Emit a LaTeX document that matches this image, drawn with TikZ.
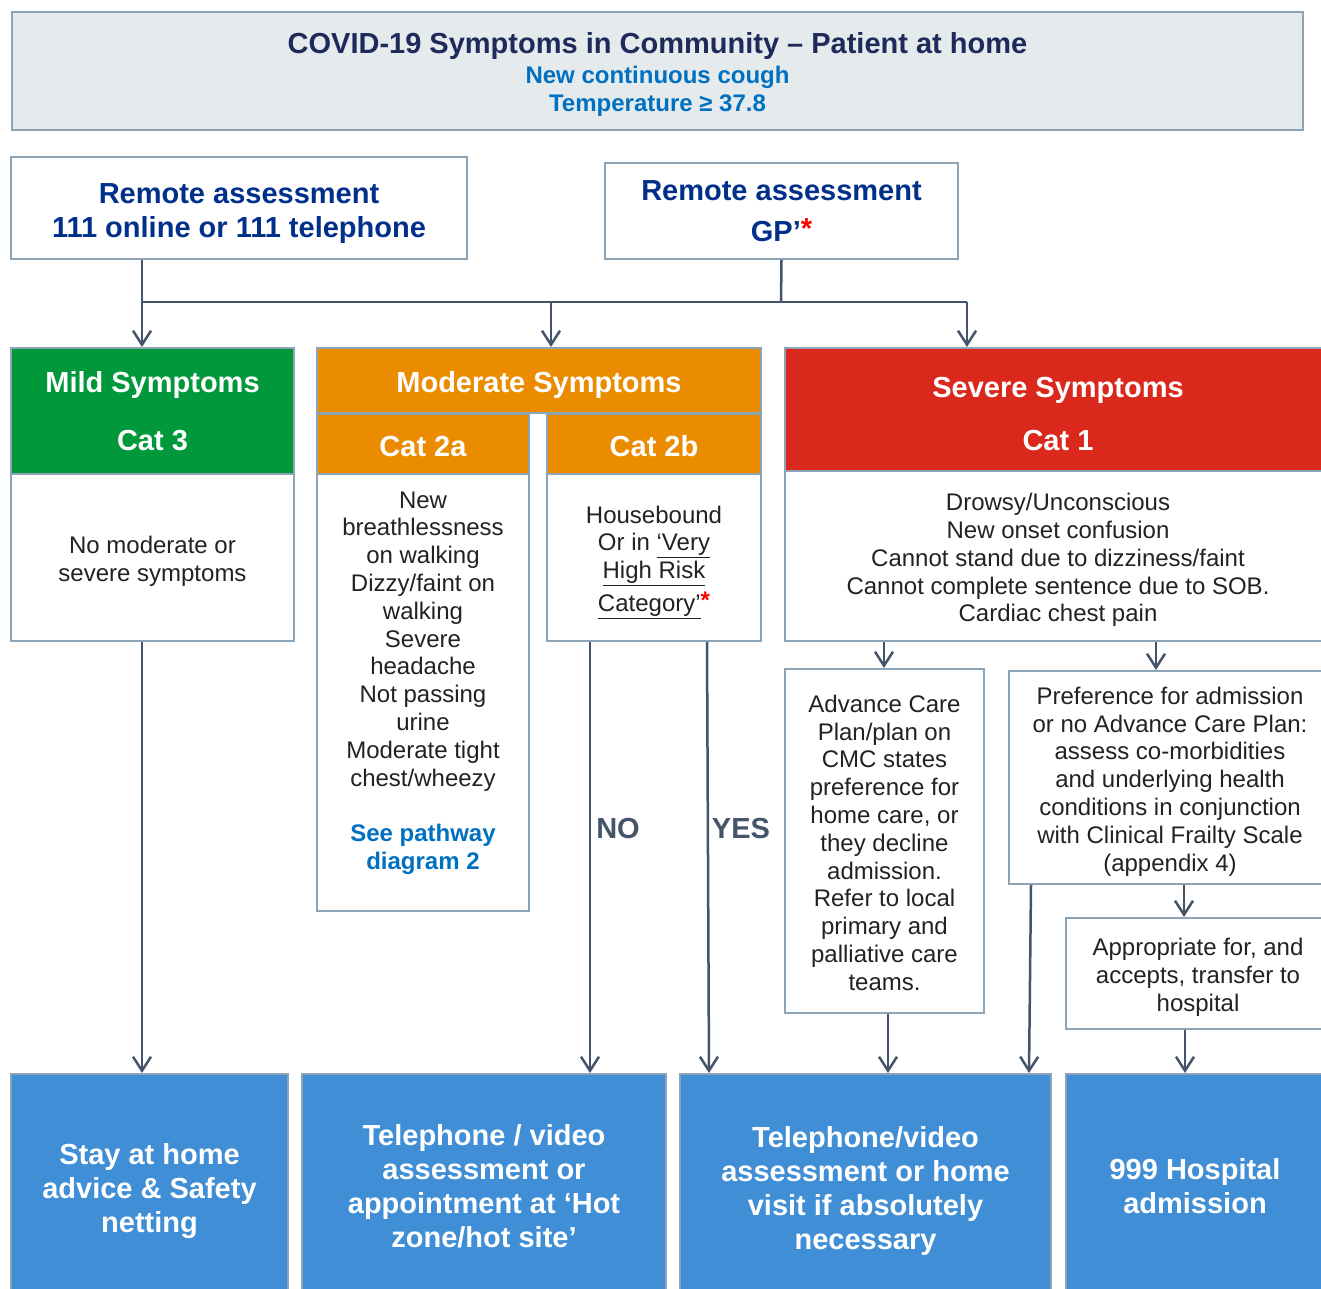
\documentclass[tikz,border=0pt]{standalone}
\usepackage{fontspec}
\setmainfont{Liberation Sans}
\usetikzlibrary{arrows.meta}
\definecolor{bordc}{HTML}{8DA3B6}
\definecolor{banner}{HTML}{E5EAED}
\definecolor{navyt}{HTML}{1E2A5A}
\definecolor{navyb}{HTML}{00308A}
\definecolor{lblue}{HTML}{0070C0}
\definecolor{greenh}{HTML}{00983A}
\definecolor{orangeh}{HTML}{EB8B00}
\definecolor{redh}{HTML}{DA291C}
\definecolor{botblue}{HTML}{3F8ED6}
\definecolor{linec}{HTML}{44546A}
\definecolor{txt}{HTML}{222222}
\newcommand\Ta{\rule{0pt}{26.4pt}}
\newcommand\Da{\rule[-6pt]{0pt}{0pt}}
\newcommand\Tb{\rule{0pt}{31.6pt}}
\newcommand\Db{\rule[-7pt]{0pt}{0pt}}
\begin{document}
\begin{tikzpicture}[x=1pt,y=-1pt,
  sz/.style n args={2}{minimum width=#1pt,minimum height=#2pt},
  box/.style={draw=bordc,line width=2pt,fill=white,inner sep=0pt,align=center,text=txt,font=\fontsize{24}{27.8}\selectfont},
  hdr/.style={box,text=white,font=\bfseries\fontsize{29}{34}\selectfont},
  botbox/.style={hdr,fill=botblue},
  conn/.style={draw=linec,line width=2.5pt,-{Straight Barb[length=14pt,width=18pt,line width=2.5pt]}},
  plain/.style={draw=linec,line width=2.5pt},
  lbl/.style={text=linec,font=\bfseries\fontsize{29}{34}\selectfont,inner sep=0pt}]
\useasboundingbox (0,0) rectangle (1321,1288);
\clip (0,0) rectangle (1321,1288);
\fill[white] (0,0) rectangle (1321,1288);

% title banner
\node[box,fill=banner,sz={1291}{118}] (title) at (657.5,71)
 {\rule{0pt}{28pt}{\bfseries\color{navyt}\fontsize{29}{31}\selectfont COVID-19 Symptoms in Community -- Patient at home}\\[2pt]
  {\bfseries\color{lblue}New continuous cough}\\
  {\bfseries\color{lblue}Temperature ≥ 37.8}\rule[-5pt]{0pt}{0pt}};

% remote assessment boxes
\node[box,text=navyb,font=\bfseries\fontsize{29}{34}\selectfont,sz={456}{102}] (r1) at (239,208)
 {\Tb Remote assessment\\111 online or 111 telephone\Db};
\node[box,text=navyb,font=\bfseries\fontsize{29}{34}\selectfont,sz={353}{96}] (r2) at (781.5,211)
 {Remote assessment\\[7pt]GP’\raisebox{3pt}{\color{red}*}};

% mild
\node[hdr,fill=greenh,sz={283}{126}] (mildh) at (152.5,411) {Mild Symptoms\\[24pt]Cat 3};
\node[box,sz={283}{167}] (mildb) at (152.5,557.5) {\Ta No moderate or\\severe symptoms\Da};

% moderate
\node[hdr,fill=orangeh,sz={444}{65}] (modh) at (539,380.5) {\Tb Moderate Symptoms\Db};
\node[hdr,fill=orangeh,sz={212}{60}] (c2a) at (423,444) {\Tb Cat 2a\Db};
\node[hdr,fill=orangeh,sz={214}{60}] (c2b) at (654,444) {\Tb Cat 2b\Db};
\node[box,sz={212}{437}] (c2ab) at (423,692.5)
 {\Ta New\\breathlessness\\on walking\\Dizzy/faint on\\walking\\Severe\\headache\\Not passing\\urine\\Moderate tight\\chest/wheezy\\ \mbox{}\\
  {\bfseries\color{lblue}See pathway}\\{\bfseries\color{lblue}diagram 2}\\ \mbox{}\Da};
\node[box,sz={214}{167}] (c2bb) at (654,557.5)
 {\Ta Housebound\\Or in \underline{‘Very}\\\underline{High Risk}\\[5pt]\underline{Category’}{\bfseries\color{red}\raisebox{3pt}{*}}\Da};

% severe
\node[hdr,fill=redh,sz={546}{123}] (sevh) at (1058,409.5) {\rule{0pt}{35.8pt}Severe Symptoms\\[19pt]Cat 1\Db};
\node[box,sz={546}{170}] (sevb) at (1058,556)
 {\Ta Drowsy/Unconscious\\New onset confusion\\Cannot stand due to dizziness/faint\\Cannot complete sentence due to SOB.\\Cardiac chest pain\Da};
\node[box,sz={199}{344}] (acp) at (884.5,841)
 {\Ta Advance Care\\Plan/plan on\\CMC states\\preference for\\home care, or\\they decline\\admission.\\Refer to local\\primary and\\palliative care\\teams.\Da};
\node[box,sz={322}{213}] (pref) at (1170,777.5)
 {\Ta Preference for admission\\or no Advance Care Plan:\\assess co-morbidities\\and underlying health\\conditions in conjunction\\with Clinical Frailty Scale\\(appendix 4)\Da};
\node[box,sz={264}{111}] (appr) at (1198,973.5)
 {\Ta Appropriate for, and\\accepts, transfer to\\hospital\Da};

% bottom outcome boxes
\node[botbox,sz={277}{224}] (botA) at (149.5,1186) {\Tb Stay at home\\advice \& Safety\\netting\Db};
\node[botbox,sz={364}{224}] (botB) at (484,1186) {Telephone / video\\assessment or\\appointment at ‘Hot\\zone/hot site’};
\node[botbox,sz={371}{224}] (botC) at (865.5,1186) {\Tb Telephone/video\\assessment or home\\visit if absolutely\\necessary\Db};
\node[botbox,sz={258}{224}] (botD) at (1195,1186) {999 Hospital\\admission};

% connectors
\coordinate (jL) at (142,302);
\coordinate (jR) at (967,302);
\coordinate (jM) at (551,302);
\coordinate (jG) at (781,302);
\draw[plain] (jL) -- (jR);
\draw[plain] (r2.south) -- (jG);
\draw[conn] (r1.south -| jL) -- (mildh.north -| jL);
\draw[conn] (jM) -- (modh.north -| jM);
\draw[conn] (jR) -- (sevh.north -| jR);

\draw[conn] (mildb.south -| jL) -- (botA.north -| jL);
\coordinate (no) at (590,0);
\coordinate (yes) at (707,0);
\draw[conn] (c2bb.south -| no) -- (botB.north -| no);
\draw[conn] (c2bb.south -| yes) -- ([xshift=2pt]botC.north -| yes);
\node[lbl] (nolbl) at (618,829) {NO};
\node[lbl] (yeslbl) at (741,829) {YES};

\coordinate (s1) at (884,0);
\coordinate (s2) at (1156,0);
\draw[conn] (sevb.south -| s1) -- (acp.north -| s1);
\draw[conn] (sevb.south -| s2) -- (pref.north -| s2);
\coordinate (a1) at (888,0);
\draw[conn] (acp.south -| a1) -- (botC.north -| a1);
\coordinate (p1) at (1031,0);
\draw[conn] (pref.south -| p1) -- ([xshift=-2pt]botC.north -| p1);
\coordinate (p2) at (1184,0);
\draw[conn] (pref.south -| p2) -- (appr.north -| p2);
\coordinate (ap) at (1185,0);
\draw[conn] (appr.south -| ap) -- (botD.north -| ap);
\end{tikzpicture}
\end{document}
